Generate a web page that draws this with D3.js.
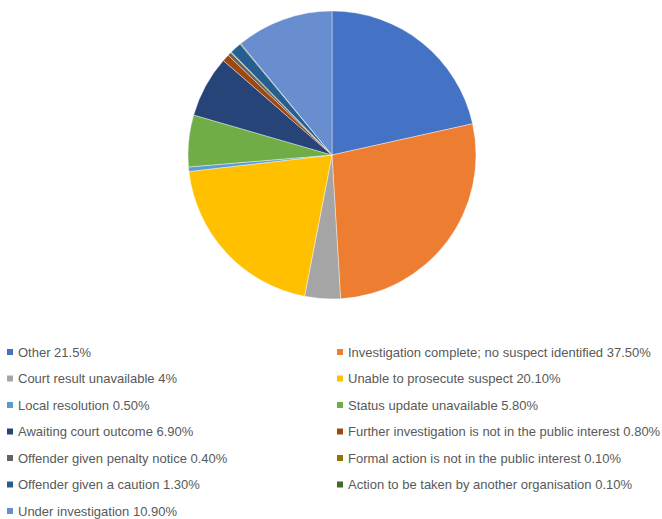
<!DOCTYPE html>
<html><head><meta charset="utf-8">
<script src="https://cdn.jsdelivr.net/npm/d3@7"></script>
<style>body{margin:0;background:#fff}svg{display:block}</style>
</head><body>
<script>
// Slice values as drawn in the pie (the legend text for slice 2 reads 37.50%)
const categories = ["Other","Investigation complete; no suspect identified","Court result unavailable","Unable to prosecute suspect","Local resolution","Status update unavailable","Awaiting court outcome","Further investigation is not in the public interest","Offender given penalty notice","Formal action is not in the public interest","Offender given a caution","Action to be taken by another organisation","Under investigation"];
const values = [21.5, 27.5, 4, 20.1, 0.5, 5.8, 6.9, 0.8, 0.4, 0.1, 1.3, 0.1, 10.9];
const legendLabels = ["Other 21.5%","Investigation complete; no suspect identified 37.50%","Court result unavailable 4%","Unable to prosecute suspect 20.10%","Local resolution 0.50%","Status update unavailable 5.80%","Awaiting court outcome 6.90%","Further investigation is not in the public interest 0.80%","Offender given penalty notice 0.40%","Formal action is not in the public interest 0.10%","Offender given a caution 1.30%","Action to be taken by another organisation 0.10%","Under investigation 10.90%"];
const colors = ["#4472C4","#ED7D31","#A5A5A5","#FFC000","#5B9BD5","#70AD47","#264478","#9E480E","#636363","#997300","#255E91","#43682B","#698ED0"];

const W = 662, H = 519;
const svg = d3.select("body").append("svg").attr("width", W).attr("height", H);
const color = d3.scaleOrdinal().domain(categories).range(colors);

const cx = 332, cy = 155, r = 144;
const data = categories.map((c, i) => ({c, v: values[i]}));
const pie = d3.pie().value(d => d.v).sort(null);
const arc = d3.arc().innerRadius(0).outerRadius(r);
svg.append("g").attr("transform", `translate(${cx},${cy})`)
  .selectAll("path").data(pie(data)).join("path")
  .attr("d", arc).attr("fill", d => color(d.data.c))
  .attr("stroke", "#fff").attr("stroke-width", 0.4);

// Legend: two columns
const col = d3.scaleOrdinal().domain([0, 1]).range([7, 337]);
const row = d3.scaleLinear().domain([0, 6]).range([352, 511]);
const lg = svg.append("g").selectAll("g").data(data).join("g")
  .attr("transform", (d, i) => `translate(${col(i % 2)},${row(Math.floor(i / 2))})`);
lg.append("rect").attr("x", 0).attr("y", -3).attr("width", 6).attr("height", 6)
  .attr("fill", d => color(d.c));
lg.append("text").attr("x", 11).attr("y", 0).attr("dy", "0.35em")
  .attr("font-family", "Liberation Sans, Arial, sans-serif").attr("font-size", 13)
  .attr("fill", "#595959")
  .text((d, i) => legendLabels[i]);
</script>
</body></html>
